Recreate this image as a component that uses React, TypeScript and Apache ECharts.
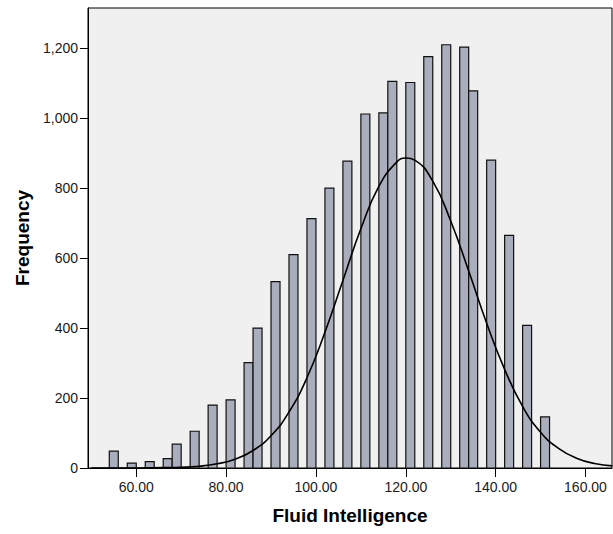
import React, { useEffect, useRef } from 'react';
import * as echarts from 'echarts';

// histogram bins (lower edge of each 2-point bin) and their counts
const binStarts = [54, 58, 62, 66, 68, 72, 76, 80, 84, 86, 90, 94, 98, 102, 106, 110, 114, 116, 120, 124, 128, 132, 134, 138, 142, 146, 150];
const binCounts = [48, 14, 18, 27, 68, 105, 180, 195, 301, 400, 533, 610, 713, 800, 877, 1012, 1015, 1105, 1102, 1176, 1210, 1203, 1078, 880, 665, 408, 146];
const BIN_WIDTH = 2;

// normal curve
const curveX = [50, 58, 66, 70, 74, 78, 82, 86, 90, 94, 98, 102, 106, 110, 114, 118, 120, 122, 126, 130, 134, 138, 142, 146, 150, 154, 158, 162, 166];
const curveY = [0, 0, 1, 2, 5, 12, 25, 50, 92, 160, 258, 388, 536, 684, 805, 875, 886, 880, 820, 706, 563, 414, 282, 176, 102, 56, 28, 13, 6];

const xTicks = [60, 80, 100, 120, 140, 160];
const yTicks = [0, 200, 400, 600, 800, 1000, 1200];

const App: React.FC = () => {
  const chartRef = useRef<HTMLDivElement>(null);

  useEffect(() => {
    if (!chartRef.current) return;
    const chart = echarts.init(chartRef.current, null, { renderer: 'svg' });

    const bars = binStarts.map((s, i) => [s, s + BIN_WIDTH, binCounts[i]]);
    const curve = curveX.map((x, i) => [x, curveY[i]]);

    const option = {
      animation: false,
      backgroundColor: '#ffffff',
      textStyle: { fontFamily: 'Liberation Sans, Arial, sans-serif' },
      grid: {
        left: 88,
        top: 8,
        right: 1,
        bottom: 66,
        show: true,
        backgroundColor: '#f0f0f0',
        borderColor: '#000000',
        borderWidth: 1,
      },
      xAxis: {
        type: 'value',
        min: 49.26,
        max: 165.9,
        name: 'Fluid Intelligence',
        nameLocation: 'middle',
        nameGap: 38,
        nameTextStyle: { fontSize: 19, fontWeight: 'bold', color: '#000' },
        splitLine: { show: false },
        axisLine: { show: true, lineStyle: { color: '#000', width: 1 } },
        axisTick: { show: true, length: 9, customValues: xTicks, lineStyle: { color: '#000' } },
        axisLabel: {
          customValues: xTicks,
          fontSize: 14,
          color: '#1a1a1a',
          margin: 12,
          formatter: (v: number) => v.toFixed(2),
        },
      },
      yAxis: {
        type: 'value',
        min: 0,
        max: 1315,
        name: 'Frequency',
        nameLocation: 'middle',
        nameGap: 49,
        nameTextStyle: { fontSize: 19, fontWeight: 'bold', color: '#000' },
        splitLine: { show: false },
        axisLine: { show: true, lineStyle: { color: '#000', width: 1 } },
        axisTick: { show: true, length: 8, customValues: yTicks, lineStyle: { color: '#000' } },
        axisLabel: {
          customValues: yTicks,
          fontSize: 14,
          color: '#1a1a1a',
          margin: 10,
          formatter: (v: number) => v.toLocaleString('en-US'),
        },
      },
      series: [
        {
          type: 'custom',
          data: bars,
          encode: { x: [0, 1], y: 2 },
          renderItem: (params: any, api: any) => {
            const top = api.coord([api.value(0), api.value(2)]);
            const bottom = api.coord([api.value(1), 0]);
            return {
              type: 'rect',
              shape: {
                x: top[0],
                y: top[1],
                width: bottom[0] - top[0],
                height: bottom[1] - top[1],
              },
              style: { fill: '#a9adbc', stroke: '#111111', lineWidth: 1.2 },
            };
          },
          z: 2,
        },
        {
          type: 'line',
          data: curve,
          smooth: true,
          symbol: 'none',
          lineStyle: { color: '#000', width: 1.6 },
          z: 3,
        },
      ],
    };

    chart.setOption(option);
    return () => chart.dispose();
  }, []);

  return (
    <div
      ref={chartRef}
      style={{ position: 'fixed', left: 0, top: 0, width: 613, height: 534 }}
    />
  );
};

export default App;
